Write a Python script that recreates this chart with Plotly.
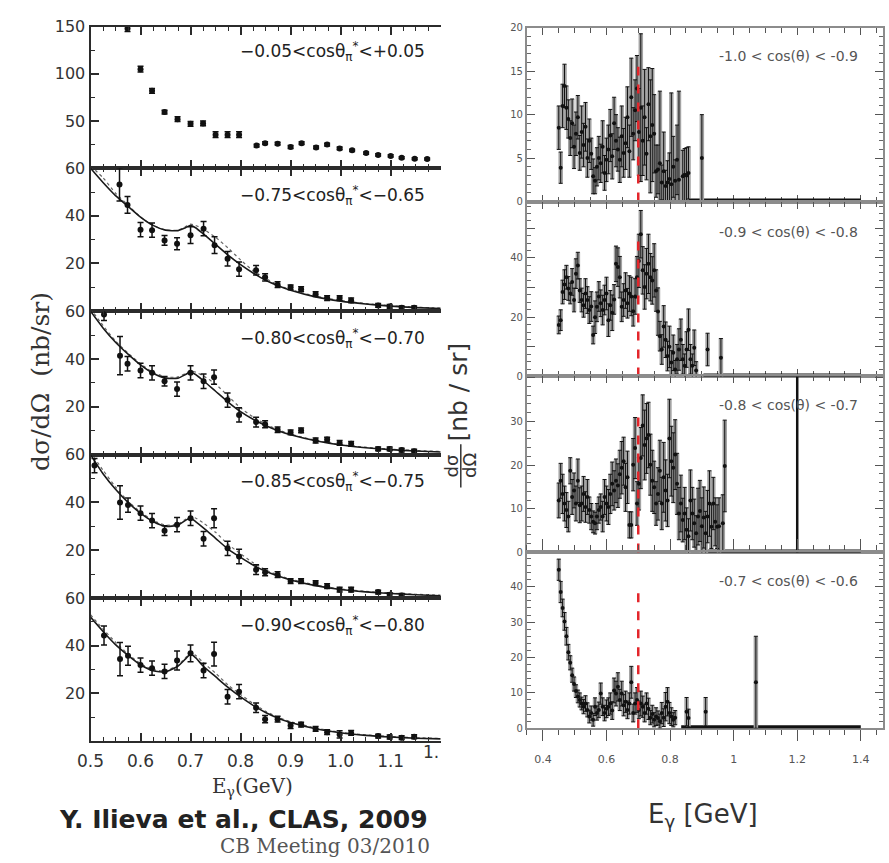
import plotly.graph_objects as go

# ---------------------------------------------------------------------------
# Left column: CLAS 2009 differential cross sections (nb/sr) vs E_gamma (GeV)
# ---------------------------------------------------------------------------
P1_E = [0.574, 0.600, 0.623, 0.648, 0.674, 0.700, 0.725, 0.750, 0.774, 0.797, 0.832, 0.849, 0.874,
        0.900, 0.922, 0.951, 0.973, 0.998, 1.023, 1.051, 1.075, 1.100, 1.122, 1.148, 1.173]
P1_Y = [148, 105, 82, 59.5, 52, 47, 47.5, 35.5, 35.5, 35.5, 24, 26.5, 26,
        22.5, 26.5, 22, 25, 21, 19, 16, 14, 13, 11, 10, 9.7]
P1_ERR = [3, 3, 2.5, 2, 2.5, 2.5, 2.5, 3, 3, 3, 1.5, 1.5, 1.5,
          1.5, 1.5, 1.5, 1.5, 1.5, 1.2, 1.2, 1.2, 1.2, 1, 1, 1]

P2_E = [0.558, 0.574, 0.600, 0.623, 0.648, 0.673, 0.700, 0.726, 0.748, 0.774, 0.797, 0.831, 0.849,
        0.874, 0.900, 0.921, 0.950, 0.973, 0.998, 1.021, 1.075, 1.098, 1.122, 1.147]
P2_Y = [53.2, 44.6, 34.2, 34.0, 29.7, 28.3, 31.9, 34.6, 27.7, 22.0, 17.6, 17.2, 14.2,
        11.1, 10.0, 9.2, 7.1, 5.5, 5.5, 4.5, 2.4, 2.0, 1.4, 1.4]
P2_ERR = [7, 3.5, 3, 3, 2, 2.5, 3.5, 3, 3.5, 3, 3, 2, 1.5,
          1.2, 1, 1, 1, 1, 1, 1, 0.8, 0.8, 0.8, 0.8]

P3_E = [0.527, 0.559, 0.574, 0.600, 0.623, 0.648, 0.673, 0.700, 0.726, 0.747, 0.774, 0.797, 0.831,
        0.849, 0.874, 0.900, 0.921, 0.950, 0.973, 0.998, 1.021, 1.075, 1.098, 1.122, 1.147]
P3_Y = [58.6, 41.4, 38.0, 35.2, 34.2, 30.7, 27.4, 34.2, 30.7, 32.4, 22.8, 16.6, 13.6,
        12.7, 10.4, 9.3, 10.1, 5.9, 6.3, 4.9, 4.5, 2.4, 2.4, 1.9, 1.4]
P3_ERR = [2.5, 8, 3, 3, 3, 2, 3, 3, 3, 3, 3, 3, 2,
          1.5, 1.2, 1, 1, 1, 1, 1, 1, 0.8, 0.8, 0.8, 0.8]

P4_E = [0.508, 0.559, 0.575, 0.600, 0.623, 0.648, 0.673, 0.700, 0.726, 0.747, 0.774, 0.797, 0.831,
        0.849, 0.874, 0.900, 0.921, 0.950, 0.973, 0.998, 1.021, 1.075, 1.098, 1.122]
P4_Y = [55.4, 40.0, 38.9, 35.5, 32.4, 28.2, 30.7, 33.4, 24.8, 33.4, 20.8, 17.4, 11.9,
        10.8, 9.8, 7.1, 7.1, 6.3, 5.0, 3.5, 3.5, 2.5, 1.4, 1.1]
P4_ERR = [3, 7, 3, 3, 3, 2, 3, 3, 3, 4, 3, 3, 2,
          1.5, 1.2, 1, 1, 1, 1, 1, 1, 0.8, 0.8, 0.8]

P5_E = [0.527, 0.559, 0.575, 0.600, 0.623, 0.648, 0.673, 0.700, 0.726, 0.747, 0.774, 0.797, 0.831,
        0.849, 0.874, 0.900, 0.921, 0.950, 0.973, 0.998, 1.021, 1.075, 1.098, 1.122, 1.147]
P5_Y = [44.3, 34.4, 35.8, 31.9, 30.6, 29.2, 33.8, 36.8, 29.6, 36.5, 18.6, 20.7, 14.0,
        9.2, 9.2, 6.5, 6.9, 5.1, 3.7, 2.8, 3.4, 2.1, 1.7, 1.4, 1.8]
P5_ERR = [4, 7, 4, 3, 3, 3, 4, 3.5, 3, 5, 3, 3, 2,
          1.5, 1.2, 1.2, 1, 1, 1, 1.5, 1, 0.8, 0.8, 0.8, 0.8]

# model curves (solid = fit, dotted = alternative model)
MODEL_E = [0.50, 0.525, 0.55, 0.575, 0.60, 0.625, 0.65, 0.675, 0.69, 0.70, 0.71, 0.725, 0.75,
           0.775, 0.80, 0.825, 0.85, 0.875, 0.90, 0.95, 1.00, 1.05, 1.10, 1.15, 1.20]
P2_FIT = [60, 54, 48.5, 44, 39.5, 36, 34, 33.8, 35, 36, 35, 32.5, 28,
          23.5, 19.5, 16, 13, 10.7, 8.8, 6, 4.2, 3, 2.1, 1.5, 1.1]
P2_ALT = [61, 56, 49.5, 44.5, 39.5, 36, 34, 34, 35.5, 36.5, 36, 34.5, 31,
          26.5, 21.5, 17, 13.8, 11, 9, 6.3, 4.5, 3.2, 2.3, 1.7, 1.3]
P3_FIT = [60, 53, 47, 42, 37.5, 34, 32, 32, 33.5, 34.5, 33.5, 31, 26.5,
          22, 18, 14.8, 12.2, 10, 8.3, 5.8, 4, 2.9, 2.1, 1.5, 1.1]
P3_ALT = [61, 54, 47.5, 42.5, 38, 34.5, 32.5, 32.5, 34, 35, 34.5, 33, 29.5,
          24.5, 19.5, 15.8, 12.8, 10.4, 8.6, 6, 4.2, 3.1, 2.3, 1.7, 1.3]
P4_FIT = [60, 52, 45.5, 40, 35.5, 32, 30, 30.5, 32.5, 33.5, 32, 29.5, 25,
          20.5, 17, 13.8, 11.2, 9.2, 7.6, 5.2, 3.6, 2.6, 1.9, 1.4, 1.0]
P4_ALT = [61, 53.5, 46.5, 40.5, 36, 32.5, 30.5, 31, 33, 34, 33.5, 31.5, 27.5,
          22.5, 18.5, 14.8, 11.8, 9.6, 7.9, 5.5, 3.8, 2.8, 2.1, 1.6, 1.2]
P5_FIT = [52, 46, 40.5, 36, 32, 29.5, 29, 31.5, 34.5, 36.5, 35, 31.5, 27,
          22.5, 18.5, 15, 12, 9.6, 7.8, 5.2, 3.5, 2.4, 1.7, 1.2, 0.9]
P5_ALT = [53, 47, 41.5, 36.5, 32.5, 30, 29.5, 32, 35, 37, 36, 33, 28.5,
          23.5, 19.5, 15.8, 12.5, 10, 8.1, 5.5, 3.7, 2.6, 1.9, 1.4, 1.1]

LEFT_LABELS = [
    "−0.05&lt;cosθ<sub>π</sub><sup>*</sup>&lt;+0.05",
    "−0.75&lt;cosθ<sub>π</sub><sup>*</sup>&lt;−0.65",
    "−0.80&lt;cosθ<sub>π</sub><sup>*</sup>&lt;−0.70",
    "−0.85&lt;cosθ<sub>π</sub><sup>*</sup>&lt;−0.75",
    "−0.90&lt;cosθ<sub>π</sub><sup>*</sup>&lt;−0.80",
]
LEFT_YMAX = [150, 60, 60, 60, 60]
LEFT_YTICKS = [[50, 100, 150], [20, 40, 60], [20, 40, 60], [20, 40, 60], [20, 40, 60]]
LEFT_YMINOR = [25, 10, 10, 10, 10]
LEFT_XTICKS = [0.5, 0.6, 0.7, 0.8, 0.9, 1.0, 1.1, 1.2]
LEFT_XTICKTEXT = ["0.5", "0.6", "0.7", "0.8", "0.9", "1.0", "1.1", " "]

# ---------------------------------------------------------------------------
# Right column: new analysis, four cos(theta) bins, common energy binning
# ---------------------------------------------------------------------------
RIGHT_E = [
    0.450, 0.456, 0.462, 0.468, 0.474, 0.480, 0.486, 0.492, 0.498, 0.504,
    0.510, 0.516, 0.522, 0.528, 0.534, 0.540, 0.546, 0.552, 0.558, 0.564,
    0.570, 0.576, 0.582, 0.588, 0.594, 0.600, 0.606, 0.612, 0.618, 0.624,
    0.630, 0.636, 0.642, 0.648, 0.654, 0.660, 0.666, 0.672, 0.678, 0.684,
    0.690, 0.696, 0.702, 0.708, 0.714, 0.720, 0.726, 0.732, 0.738, 0.744,
    0.750, 0.756, 0.762, 0.768, 0.774, 0.780, 0.786, 0.792, 0.798, 0.804,
    0.810, 0.816, 0.822, 0.828, 0.834, 0.840, 0.846, 0.852, 0.858, 0.864,
    0.870, 0.876, 0.882, 0.888, 0.894, 0.900, 0.906, 0.912, 0.918, 0.924,
    0.930, 0.936, 0.942, 0.948, 0.954, 0.960, 0.966, 0.972]

RA_Y = [
    8.5, 3.9, 11.0, 13.3, 10.8, 9.5, 7.3, 9.0, 6.3, 7.8,
    9.7, 5.6, 8.0, 6.5, 8.6, 5.0, 7.0, 5.5, 2.9, 2.4,
    4.0, 5.0, 4.4, 6.3, 3.3, 4.8, 6.0, 7.6, 5.2, 9.0,
    7.0, 6.0, 4.8, 7.5, 5.6, 6.7, 9.7, 5.8, 12.0, 7.8,
    10.5, 13.0, 8.0, 10.8, 7.0, 9.7, 5.5, 11.2, 7.5, 8.8,
    7.8, 3.5, 3.7, 4.4, 2.2, 3.5, 1.8, 2.2, 2.6, 2.0,
    4.0, 2.4, 4.8, 2.5, None, 2.9, 3.1, 3.0, 3.3, None,
    None, None, None, None, None, 5.0, None, None, None, None,
    None, None, None, None, None, None, None, None]
RA_ERR = [
    2.5, 1.8, 2.5, 2.5, 2.5, 2.2, 2.0, 2.8, 2.5, 2.5,
    2.5, 2.0, 3.0, 2.5, 2.8, 2.2, 2.5, 1.8, 2.0, 1.5,
    2.2, 2.5, 2.2, 3.0, 2.0, 2.5, 2.8, 3.0, 2.6, 3.0,
    3.0, 2.5, 2.6, 3.5, 2.8, 3.0, 3.5, 3.0, 4.5, 3.0,
    3.5, 3.8, 5.0, 8.5, 4.0, 5.5, 3.0, 4.2, 6.5, 6.5,
    4.5, 3.0, 2.8, 8.3, 2.0, 4.5, 1.8, 2.5, 3.0, 10.5,
    3.5, 2.4, 4.0, 10.2, None, 3.0, 3.0, 3.2, 3.0, None,
    None, None, None, None, None, 5.0, None, None, None, None,
    None, None, None, None, None, None, None, None]

RB_Y = [
    17.4, 19.0, 28.5, 31.0, 33.5, 29.7, 28.0, 31.9, 25.8, 34.7,
    37.4, 29.0, 25.8, 24.0, 28.0, 25.8, 22.4, 23.6, 14.0, 20.0,
    23.5, 27.0, 24.7, 22.4, 25.8, 28.0, 19.0, 24.0, 21.5, 26.0,
    38.0, 36.9, 33.5, 23.5, 25.8, 29.0, 24.7, 28.0, 27.0, 22.0,
    27.0, 33.5, 39.0, 48.0, 35.8, 30.2, 34.7, 38.0, 33.5, 32.4,
    35.8, 29.0, 21.9, 13.6, 9.1, 16.9, 12.4, 6.9, 10.0, 4.7,
    8.0, 2.4, 5.8, 9.1, 12.4, 5.8, 3.6, 9.1, 15.8, 5.8,
    3.6, 9.7, 2.0, None, None, None, None, None, 9.1, None,
    None, None, None, None, None, 6.3, None, None]
RB_ERR = [
    3.0, 3.5, 4.0, 5.0, 4.0, 4.0, 3.5, 4.5, 4.0, 5.0,
    4.5, 4.0, 4.0, 4.0, 5.0, 4.5, 4.5, 5.0, 3.0, 5.5,
    5.0, 5.0, 4.5, 5.0, 5.0, 5.5, 5.5, 5.0, 6.0, 5.0,
    6.0, 6.5, 7.0, 5.0, 5.5, 6.0, 5.0, 6.0, 6.5, 5.0,
    6.0, 7.0, 9.0, 8.0, 8.0, 7.5, 8.5, 10.0, 8.0, 8.0,
    9.0, 7.0, 8.0, 5.0, 5.0, 7.0, 6.0, 5.0, 7.0, 4.0,
    6.0, 3.0, 5.0, 7.0, 7.0, 5.0, 4.0, 6.0, 7.0, 5.0,
    4.0, 6.0, 3.0, None, None, None, None, None, 5.5, None,
    None, None, None, None, None, 6.5, None, None]

RC_Y = [
    11.9, 16.4, 13.4, 11.2, 9.7, 8.2, 18.7, 12.7, 14.2, 11.2,
    16.4, 10.8, 11.2, 13.4, 10.4, 12.7, 9.7, 8.2, 7.0, 6.7,
    8.2, 9.7, 10.4, 8.2, 12.7, 11.2, 10.4, 13.4, 15.7, 14.2,
    16.4, 15.3, 17.9, 19.4, 20.9, 14.9, 17.2, 6.3, 6.3, 20.1,
    23.9, 11.2, 15.7, 21.6, 29.1, 24.6, 26.1, 26.9, 20.1, 16.4,
    14.9, 11.2, 13.4, 18.7, 11.2, 17.2, 14.2, 11.9, 26.1, 20.9,
    19.4, 22.4, 15.7, 8.9, 11.2, 7.4, 8.9, 5.2, 3.7, 11.9,
    8.9, 6.7, 4.4, 8.2, 9.5, 6.0, 8.0, 4.4, 8.2, 11.2,
    5.9, 11.2, 7.0, 5.9, 6.0, None, 6.7, 19.8]
RC_ERR = [
    4.0, 4.0, 4.5, 4.0, 4.0, 3.5, 3.0, 4.0, 4.0, 4.0,
    5.0, 4.0, 4.0, 4.0, 3.5, 4.0, 3.0, 3.0, 2.5, 2.5,
    3.0, 3.0, 3.0, 3.5, 4.0, 4.0, 4.0, 4.5, 5.0, 4.5,
    5.0, 5.0, 5.5, 6.0, 5.5, 5.5, 6.0, 3.0, 3.0, 6.0,
    7.0, 5.0, 6.0, 7.0, 7.0, 8.0, 8.0, 7.5, 7.0, 7.0,
    6.0, 5.0, 6.0, 7.0, 6.0, 8.0, 7.0, 6.0, 9.0, 8.0,
    8.0, 8.0, 7.0, 6.0, 6.5, 5.0, 6.0, 5.0, 4.0, 7.0,
    6.0, 5.5, 4.0, 6.5, 7.0, 6.5, 7.0, 5.0, 6.0, 7.5,
    5.0, 6.0, 5.5, 5.0, 6.5, None, 6.5, 10.5]

RD_Y = [
    44.8, 38.5, 34.0, 30.2, 26.0, 21.5, 18.5, 15.0, 12.5, 10.5,
    9.0, 8.0, 7.0, 6.1, 7.0, 5.2, 3.3, 4.3, 2.4, 6.1,
    4.3, 5.2, 9.8, 6.1, 4.3, 5.5, 6.1, 7.0, 5.0, 10.7,
    9.8, 11.7, 8.0, 9.8, 6.5, 7.5, 5.2, 7.0, 13.0, 4.3,
    7.0, 8.0, 5.2, 7.0, 6.1, 4.3, 7.0, 5.5, 3.0, 4.0,
    2.4, 3.3, 2.9, 2.0, 4.3, 3.0, 6.1, 7.5, 4.3, 3.3,
    2.4, 3.0, None, None, None, None, None, 4.7, 2.9, None,
    None, None, None, None, None, None, None, 4.7, None, None,
    None, None, None, None, None, None, None, None]
RD_ERR = [
    3.0, 3.0, 2.5, 2.5, 2.5, 2.2, 2.0, 2.0, 2.0, 1.8,
    1.8, 2.0, 1.8, 2.0, 2.2, 2.0, 1.8, 2.0, 1.8, 2.5,
    2.0, 2.2, 3.0, 2.5, 2.2, 2.5, 2.5, 3.0, 2.5, 3.5,
    3.5, 4.0, 3.0, 3.5, 3.0, 3.0, 2.5, 3.0, 4.5, 2.5,
    3.0, 3.5, 2.5, 3.5, 3.0, 2.5, 3.0, 3.0, 2.0, 2.5,
    2.0, 2.5, 2.0, 2.0, 3.0, 2.5, 4.0, 4.0, 3.0, 2.5,
    2.0, 2.0, None, None, None, None, None, 4.0, 2.5, None,
    None, None, None, None, None, None, None, 4.0, None, None,
    None, None, None, None, None, None, None, None]
RD_EXTRA_E = [1.07]
RD_EXTRA_Y = [13.0]
RD_EXTRA_ERR = [13.0]

RIGHT_LABELS = ["-1.0 &lt; cos(θ) &lt; -0.9", "-0.9 &lt; cos(θ) &lt; -0.8",
                "-0.8 &lt; cos(θ) &lt; -0.7", "-0.7 &lt; cos(θ) &lt; -0.6"]
RIGHT_YMAX = [20, 59, 40.3, 49.7]
RIGHT_YTICKS = [[0, 5, 10, 15, 20], [0, 10, 20, 30, 40, 50], [0, 10, 20, 30, 40], [0, 10, 20, 30, 40]]
RIGHT_YTEXT = [["0", "5", "10", "15", "20"], ["0", " ", "20", " ", "40", " "],
               ["0", "10", "20", "30", " "], ["0", "10", "20", "30", "40"]]
RIGHT_YMINOR = [1, 2.5, 2, 2]

# omega threshold marker and empty-bin baseline
OMEGA_E = 0.70
OMEGA_TOP = [15.5, 46.0, 31.5, 38.5]
BASELINE_START = [0.83, 0.905, 0.92, 0.835]
BASELINE_END = 1.4
BIN_EDGE_C = 1.2

# ---------------------------------------------------------------------------
W, H = 889, 863
SANS = "DejaVu Sans"
SERIF = "DejaVu Serif"
INK = "#1a1a1a"


def fx(px):
    return px / W


def fy(py):
    return 1 - py / H


def axref(n, a):
    return a if n == 1 else f"{a}{n}"


def axkey(n, a):
    return f"{a}axis" if n == 1 else f"{a}axis{n}"


LEFT_X_PX = (78, 435)
LEFT_ROWS_PX = [(18, 162), (162, 307.5), (307.5, 453.5), (453.5, 599.5), (599.5, 745)]
RIGHT_X_PX = (523, 886)
RIGHT_ROWS_PX = [(19, 196), (196, 374), (374, 553), (553, 732)]

fig = go.Figure()
layout_axes = {}
annotations = []
shapes = []

left_points = [(P1_E, P1_Y, P1_ERR), (P2_E, P2_Y, P2_ERR), (P3_E, P3_Y, P3_ERR),
               (P4_E, P4_Y, P4_ERR), (P5_E, P5_Y, P5_ERR)]
left_models = [None, (P2_FIT, P2_ALT), (P3_FIT, P3_ALT), (P4_FIT, P4_ALT), (P5_FIT, P5_ALT)]
left_label_y = [43, 190, 335, 481, 627]

for i in range(5):
    n = i + 1
    top, bot = LEFT_ROWS_PX[i]
    last = i == 4
    layout_axes[axkey(n, "x")] = dict(
        domain=[fx(LEFT_X_PX[0]), fx(LEFT_X_PX[1])], range=[0.5, 1.2], anchor=axref(n, "y"),
        showline=True, linecolor="#2b2b2b", linewidth=2, mirror="allticks",
        ticks="inside", ticklen=8, tickwidth=1.5, tickcolor="#2b2b2b",
        tickmode="array", tickvals=LEFT_XTICKS, ticktext=LEFT_XTICKTEXT,
        showticklabels=last, ticklabelstandoff=4,
        minor=dict(tickmode="linear", tick0=0.5, dtick=0.025, ticklen=4, tickwidth=1,
                   tickcolor="#2b2b2b", ticks="inside"),
        showgrid=False, zeroline=False,
        tickfont=dict(family=SANS, size=17, color="#333"),
    )
    layout_axes[axkey(n, "y")] = dict(
        domain=[fy(bot), fy(top)], range=[0, LEFT_YMAX[i]], anchor=axref(n, "x"),
        showline=True, linecolor="#2b2b2b", linewidth=2, mirror=False,
        ticks="inside", ticklen=8, tickwidth=1.5, tickcolor="#2b2b2b",
        tickmode="array", tickvals=LEFT_YTICKS[i],
        minor=dict(tickmode="linear", tick0=0, dtick=LEFT_YMINOR[i], ticklen=4, tickwidth=1,
                   tickcolor="#2b2b2b", ticks="inside"),
        showgrid=False, zeroline=False,
        tickfont=dict(family=SANS, size=16, color="#333"),
    )
    xr, yr = axref(n, "x"), axref(n, "y")
    if left_models[i] is not None:
        fit, alt = left_models[i]
        fig.add_trace(go.Scatter(x=MODEL_E, y=alt, mode="lines", xaxis=xr, yaxis=yr,
                                 line=dict(color="#666", width=1.2, dash="dot", shape="spline",
                                           smoothing=0.6)))
        fig.add_trace(go.Scatter(x=MODEL_E, y=fit, mode="lines", xaxis=xr, yaxis=yr,
                                 line=dict(color=INK, width=1.6, shape="spline", smoothing=0.6)))
    e, v, err = left_points[i]
    fig.add_trace(go.Scatter(
        x=e, y=v, mode="markers", xaxis=xr, yaxis=yr,
        marker=dict(size=6, color="#111"),
        error_y=dict(type="data", array=err, color="#111", thickness=1.5, width=3),
        cliponaxis=False,
    ))
    annotations.append(dict(
        text=LEFT_LABELS[i], xref="paper", yref="paper", x=fx(421), y=fy(left_label_y[i]),
        xanchor="right", yanchor="middle", showarrow=False,
        font=dict(family=SANS, size=17, color="#222"),
    ))

# truncated last tick label of the left energy axis
annotations.append(dict(text="1.", xref="x5", yref="paper", x=1.2, y=fy(756),
                        xanchor="right", yanchor="middle", showarrow=False,
                        font=dict(family=SANS, size=17, color="#333")))

right_sets = [(RA_Y, RA_ERR), (RB_Y, RB_ERR), (RC_Y, RC_ERR), (RD_Y, RD_ERR)]
right_label_y = [48, 227, 403, 582]

for j in range(4):
    n = 6 + j
    top, bot = RIGHT_ROWS_PX[j]
    last = j == 3
    layout_axes[axkey(n, "x")] = dict(
        domain=[fx(RIGHT_X_PX[0]), fx(RIGHT_X_PX[1])], range=[0.35, 1.47], anchor=axref(n, "y"),
        showline=True, linecolor="#8c8c8c", linewidth=2, mirror="allticks",
        ticks="outside" if last else "inside", ticklen=11 if last else 7,
        tickwidth=1.2, tickcolor="#555",
        tickmode="linear", tick0=0.4, dtick=0.2, showticklabels=last,
        ticklabelstandoff=9, layer="below traces",
        minor=dict(tickmode="linear", tick0=0.4, dtick=0.05, ticklen=5, tickwidth=1,
                   tickcolor="#555", ticks="outside" if last else "inside"),
        showgrid=False, zeroline=False,
        tickfont=dict(family=SANS, size=11, color="#555"),
    )
    layout_axes[axkey(n, "y")] = dict(
        domain=[fy(bot), fy(top)], range=[0, RIGHT_YMAX[j]], anchor=axref(n, "x"),
        showline=True, linecolor="#8c8c8c", linewidth=2, mirror="allticks",
        ticks="inside", ticklen=8, tickwidth=1.2, tickcolor="#555",
        tickmode="array", tickvals=RIGHT_YTICKS[j], ticktext=RIGHT_YTEXT[j],
        layer="below traces",
        minor=dict(tickmode="linear", tick0=0, dtick=RIGHT_YMINOR[j], ticklen=4, tickwidth=1,
                   tickcolor="#666", ticks="inside"),
        showgrid=False, zeroline=False,
        tickfont=dict(family=SANS, size=10, color="#555"),
    )
    xr, yr = axref(n, "x"), axref(n, "y")
    vals, errs = right_sets[j]
    xs, ys, es = [], [], []
    for e, v, d in zip(RIGHT_E, vals, errs):
        if v is not None:
            xs.append(e)
            ys.append(v)
            es.append(d)
    if last:
        xs += RD_EXTRA_E
        ys += RD_EXTRA_Y
        es += RD_EXTRA_ERR
    # empty-bin baseline
    fig.add_trace(go.Scatter(x=[BASELINE_START[j], BASELINE_END], y=[0, 0], mode="lines",
                             xaxis=xr, yaxis=yr, line=dict(color="#111", width=6)))
    if j == 2:
        fig.add_trace(go.Scatter(x=[BIN_EDGE_C, BIN_EDGE_C], y=[0, RIGHT_YMAX[j]], mode="lines",
                                 xaxis=xr, yaxis=yr, line=dict(color="#111", width=2.5)))
    # systematic bands
    fig.add_trace(go.Scatter(
        x=xs, y=ys, mode="markers", xaxis=xr, yaxis=yr,
        marker=dict(size=1, color="rgba(0,0,0,0)"),
        error_y=dict(type="data", array=es, color="#a3a3a3", thickness=4.5, width=0),
    ))
    # statistical errors
    fig.add_trace(go.Scatter(
        x=xs, y=ys, mode="markers", xaxis=xr, yaxis=yr,
        marker=dict(size=4, color="#111"),
        error_y=dict(type="data", array=es, color="#111", thickness=1, width=2),
    ))
    # omega threshold
    fig.add_trace(go.Scatter(x=[OMEGA_E, OMEGA_E], y=[0, OMEGA_TOP[j]], mode="lines",
                             xaxis=xr, yaxis=yr,
                             line=dict(color="#e3262b", width=2.5, dash="dash")))
    annotations.append(dict(
        text=RIGHT_LABELS[j], xref="paper", yref="paper", x=fx(790), y=fy(right_label_y[j]),
        xanchor="center", yanchor="middle", showarrow=False,
        font=dict(family=SANS, size=14, color="#555"),
    ))

# axis titles and captions
annotations += [
    dict(text="E<sub>γ</sub>(GeV)", xref="paper", yref="paper", x=fx(243), y=fy(792),
         xanchor="center", yanchor="middle", showarrow=False,
         font=dict(family=SERIF, size=20, color="#333")),
    dict(text="dσ/dΩ  (nb/sr)", xref="paper", yref="paper", x=fx(27), y=fy(379),
         xanchor="center", yanchor="middle", showarrow=False, textangle=-90,
         font=dict(family=SERIF, size=25, color="#333")),
    dict(text="E<sub>γ</sub> [GeV]", xref="paper", yref="paper", x=fx(702), y=fy(821),
         xanchor="center", yanchor="middle", showarrow=False,
         font=dict(family=SANS, size=26, color="#333")),
    dict(text="[nb / sr]", xref="paper", yref="paper", x=fx(453), y=fy(390),
         xanchor="center", yanchor="middle", showarrow=False, textangle=-90,
         font=dict(family=SANS, size=25, color="#333")),
    dict(text="dσ", xref="paper", yref="paper", x=fx(446), y=fy(465),
         xanchor="center", yanchor="middle", showarrow=False, textangle=-90,
         font=dict(family=SANS, size=18, color="#333")),
    dict(text="dΩ", xref="paper", yref="paper", x=fx(465), y=fy(465),
         xanchor="center", yanchor="middle", showarrow=False, textangle=-90,
         font=dict(family=SANS, size=18, color="#333")),
    dict(text="<b>Y. Ilieva et al., CLAS, 2009</b>", xref="paper", yref="paper",
         x=fx(234), y=fy(825), xanchor="center", yanchor="middle", showarrow=False,
         font=dict(family=SANS, size=25, color="#222")),
    dict(text="CB Meeting 03/2010", xref="paper", yref="paper", x=fx(317), y=fy(852),
         xanchor="center", yanchor="middle", showarrow=False,
         font=dict(family=SERIF, size=20, color="#555")),
]
shapes.append(dict(type="line", xref="paper", yref="paper", x0=fx(455.5), x1=fx(455.5),
                   y0=fy(443), y1=fy(487), line=dict(color="#333", width=1.5)))

fig.update_layout(
    width=W, height=H, margin=dict(l=0, r=0, t=0, b=0),
    paper_bgcolor="white", plot_bgcolor="white", showlegend=False,
    annotations=annotations, shapes=shapes, **layout_axes,
)

fig.write_html("out.html")
